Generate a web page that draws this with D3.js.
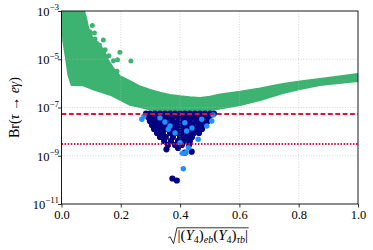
<!DOCTYPE html>
<meta charset="utf-8">
<style>
    body { margin: 0; background: #fff; }
    text { font-family: "Liberation Serif", "DejaVu Serif", serif; fill: #000; }
    .axis path, .axis line { stroke: #000; stroke-width: 0.8; }
    .grid line { stroke: #b8b8b8; stroke-width: 0.8; stroke-dasharray: 1, 1.6; }
</style>
<body>
<script src="https://d3js.org/d3.v7.min.js"></script>
<script>
    // upper / lower edge of the dense green scan [x, Br]
    var greenUpper = [
        [0, 1e-3], [0.076, 1e-3], [0.083, 5.1e-4], [0.089, 2.2e-4], [0.103, 8.4e-5],
        [0.130, 3.9e-5], [0.147, 1.8e-5], [0.157, 9.3e-6], [0.174, 4.3e-6], [0.197, 2.0e-6],
        [0.231, 1.25e-6], [0.265, 7.4e-7], [0.299, 5.3e-7], [0.332, 4.1e-7], [0.366, 3.3e-7],
        [0.400, 2.9e-7], [0.433, 2.65e-7], [0.467, 2.5e-7], [0.501, 2.8e-7], [0.535, 3.5e-7],
        [0.602, 4.5e-7], [0.670, 6.1e-7], [0.747, 9.4e-7], [0.804, 1.2e-6], [0.872, 1.52e-6],
        [1.0, 2.45e-6]
    ];
    var greenLower = [
        [0, 1e-3], [0.002, 4.2e-4], [0.006, 5.7e-5], [0.015, 1.13e-5], [0.023, 2.3e-6],
        [0.034, 8.6e-7], [0.073, 8.3e-7], [0.109, 5.5e-7], [0.164, 3.4e-7], [0.197, 2.1e-7],
        [0.231, 1.3e-7], [0.265, 1.05e-7], [0.299, 8.3e-8], [0.332, 7.2e-8], [0.383, 6.5e-8],
        [0.467, 6.8e-8], [0.525, 8.7e-8], [0.602, 1.27e-7], [0.670, 2.05e-7], [0.747, 4.0e-7],
        [0.804, 5.8e-7], [0.872, 8.6e-7], [1.0, 1.25e-6]
    ];
    // separated green points
    var greenPts = [
        [0.104, 2.5e-4], [0.096, 1.35e-4], [0.111, 1.22e-4], [0.113, 6.9e-5], [0.141, 6.3e-5],
        [0.128, 3.9e-5], [0.130, 2.3e-5], [0.147, 2.5e-5], [0.197, 1.94e-5], [0.234, 8.5e-6],
        [0.175, 8.7e-6], [0.189, 9.6e-6], [0.187, 3.2e-6], [0.118, 4.6e-5], [0.160, 1.4e-5]
    ];

    // navy points, grouped by rows of Br
    var navyRowBr = [5.6e-8, 4.0e-8, 2.75e-8, 1.88e-8, 1.29e-8, 8.8e-9, 6.0e-9, 4.1e-9, 2.8e-9];
    var navyRowX = [
        [0.285, 0.298, 0.315, 0.332, 0.349, 0.366, 0.383, 0.400, 0.416, 0.433, 0.450, 0.467, 0.484, 0.501, 0.514],
        [0.292, 0.309, 0.325, 0.342, 0.359, 0.376, 0.393, 0.410, 0.427, 0.443, 0.460, 0.477, 0.494],
        [0.298, 0.315, 0.332, 0.352, 0.373, 0.393, 0.413, 0.433, 0.454, 0.474, 0.494],
        [0.305, 0.322, 0.342, 0.363, 0.383, 0.403, 0.423, 0.443, 0.464, 0.484],
        [0.312, 0.332, 0.352, 0.373, 0.393, 0.413, 0.433, 0.454, 0.474],
        [0.322, 0.342, 0.366, 0.386, 0.406, 0.427, 0.447, 0.464],
        [0.332, 0.352, 0.376, 0.400, 0.420, 0.440],
        [0.346, 0.369, 0.393, 0.413, 0.433],
        [0.359, 0.383, 0.406, 0.430]
    ];
    var navyPts = [
        [0.354, 1.85e-9], [0.416, 1.34e-9], [0.439, 1.47e-9], [0.393, 2.1e-9],
        [0.374, 1.14e-10], [0.389, 9.4e-11], [0.338, 7.7e-9], [0.500, 4.6e-8], [0.470, 2.1e-8]
    ];
    var bluePts = [
        [0.271, 3.24e-8], [0.278, 4.4e-8], [0.360, 1.25e-8], [0.366, 1.71e-8], [0.416, 2.34e-8],
        [0.422, 1.06e-8], [0.473, 3.24e-8], [0.507, 2.75e-8], [0.490, 1.71e-8], [0.461, 4.8e-9],
        [0.428, 2.16e-9], [0.400, 3.5e-9], [0.411, 2.9e-10], [0.407, 1.26e-9], [0.420, 1.34e-9],
        [0.511, 4.9e-8], [0.383, 8.8e-9], [0.349, 2.5e-8], [0.440, 1.41e-8], [0.332, 3.7e-8]
    ];

    var limitNow = 5.6e-8, limitFuture = 3.1e-9;
    var xTicks = [0, 0.2, 0.4, 0.6, 0.8, 1.0];
    var yTicks = [1e-3, 1e-5, 1e-7, 1e-9, 1e-11];
    var yTickExp = ["\u22123", "\u22125", "\u22127", "\u22129", "\u221211"];

    var W = 373, H = 250;
    var margin = {top: 11, right: 15, bottom: 46, left: 61.5};

    var x = d3.scaleLinear().domain([0, 1]).range([margin.left, W - margin.right]);
    var y = d3.scaleLog().domain([1e-11, 1e-3]).range([H - margin.bottom, margin.top]);

    var svg = d3.select("body").append("svg")
        .attr("width", W)
        .attr("height", H);

    svg.append("defs").append("clipPath")
        .attr("id", "plotClip")
        .append("rect")
        .attr("x", x(0)).attr("y", y(1e-3))
        .attr("width", x(1) - x(0)).attr("height", y(1e-11) - y(1e-3));

    var plot = svg.append("g").attr("clip-path", "url(#plotClip)");

    var green = "#3cb371";
    var line = d3.line().x(function(d) { return x(d[0]); }).y(function(d) { return y(d[1]); });
    plot.append("path")
        .attr("d", line(greenUpper.concat(greenLower.slice().reverse())) + "Z")
        .attr("fill", green)
        .attr("stroke", green)
        .attr("stroke-width", 2)
        .attr("stroke-linejoin", "round");

    plot.selectAll("circle.g").data(greenPts).enter().append("circle")
        .attr("class", "g")
        .attr("cx", function(d) { return x(d[0]); })
        .attr("cy", function(d) { return y(d[1]); })
        .attr("r", 2.5)
        .attr("fill", green);

    var navyAll = [];
    navyRowBr.forEach(function(br, i) {
        navyRowX[i].forEach(function(v) { navyAll.push([v, br]); });
    });
    navyAll = navyAll.concat(navyPts);

    plot.selectAll("circle.n").data(navyAll).enter().append("circle")
        .attr("class", "n")
        .attr("cx", function(d) { return x(d[0]); })
        .attr("cy", function(d) { return y(d[1]); })
        .attr("r", 3.1)
        .attr("fill", "#000080");

    plot.selectAll("circle.b").data(bluePts).enter().append("circle")
        .attr("class", "b")
        .attr("cx", function(d) { return x(d[0]); })
        .attr("cy", function(d) { return y(d[1]); })
        .attr("r", 2.7)
        .attr("fill", "#1e90ff");

    // grid on top, faint
    var grid = svg.append("g").attr("class", "grid").attr("opacity", 0.7);
    grid.selectAll("line.vx").data(xTicks.slice(1, -1)).enter().append("line")
        .attr("x1", x).attr("x2", x)
        .attr("y1", y(1e-3)).attr("y2", y(1e-11));
    grid.selectAll("line.hy").data(yTicks.slice(1, -1)).enter().append("line")
        .attr("y1", y).attr("y2", y)
        .attr("x1", x(0)).attr("x2", x(1));

    // limits (snapped to whole pixels so they stay crisp)
    var yNow = Math.round(y(limitNow)), yFut = Math.round(y(limitFuture));
    svg.append("line")
        .attr("x1", x(0)).attr("x2", x(1))
        .attr("y1", yNow).attr("y2", yNow)
        .attr("stroke", "#dc143c").attr("stroke-width", 2)
        .attr("stroke-dasharray", "4.8,2.6");
    svg.append("line")
        .attr("x1", x(0)).attr("x2", x(1))
        .attr("y1", yFut).attr("y2", yFut)
        .attr("stroke", "#dc143c").attr("stroke-width", 2)
        .attr("stroke-dasharray", "1.5,1.6");

    // axes
    var gx = svg.append("g").attr("class", "axis")
        .attr("transform", "translate(0," + y(1e-11) + ")")
        .call(d3.axisBottom(x).tickValues(xTicks).tickFormat(d3.format(".1f")).tickSize(3.5).tickPadding(3));
    gx.selectAll("text").style("font-size", "12.5px").style("font-family", "Liberation Serif, serif");
    gx.select(".domain").remove();

    var gy = svg.append("g").attr("class", "axis")
        .attr("transform", "translate(" + x(0) + ",0)")
        .call(d3.axisLeft(y).tickValues(yTicks).tickFormat("").tickSize(3.5));
    gy.select(".domain").remove();
    gy.selectAll(".tick").each(function(d, i) {
        var t = d3.select(this).append("text")
            .attr("x", -2.5).attr("y", 4.3)
            .attr("text-anchor", "end")
            .style("font-size", "12.5px");
        t.append("tspan").text("10");
        t.append("tspan").attr("dy", -5.5).style("font-size", "9px").text(yTickExp[i]);
    });

    svg.append("rect")
        .attr("x", x(0)).attr("y", y(1e-3))
        .attr("width", x(1) - x(0)).attr("height", y(1e-11) - y(1e-3))
        .attr("fill", "none").attr("stroke", "#000").attr("stroke-width", 0.9);

    // y label
    var yl = svg.append("text")
        .attr("transform", "translate(14," + ((y(1e-3) + y(1e-11)) / 2) + ") rotate(-90)")
        .attr("text-anchor", "middle")
        .attr("dy", "0.35em")
        .style("font-size", "14px");
    yl.append("tspan").text("Br(");
    yl.append("tspan").style("font-style", "italic").text("\u03c4");
    yl.append("tspan").text(" \u2192 ");
    yl.append("tspan").style("font-style", "italic").text("e\u03b3");
    yl.append("tspan").text(")");

    // x label with radical
    var xc = (x(0) + x(1)) / 2 + 3;
    var xl = svg.append("text")
        .attr("x", xc).attr("y", 240)
        .attr("text-anchor", "middle")
        .style("font-size", "15px");
    function sub(txt, it) {
        xl.append("tspan").attr("dy", 3).style("font-size", "10px")
            .style("font-style", it ? "italic" : "normal").text(txt);
    }
    xl.append("tspan").text("|(");
    xl.append("tspan").style("font-style", "italic").text("Y");
    sub("4", false);
    xl.append("tspan").attr("dy", -3).text(")");
    sub("eb", true);
    xl.append("tspan").attr("dy", -3).text("(");
    xl.append("tspan").style("font-style", "italic").text("Y");
    sub("4", false);
    xl.append("tspan").attr("dy", -3).text(")");
    sub("\u03c4b", true);
    xl.append("tspan").attr("dy", -3).text("|");
    var bb = xl.node().getBBox();
    var barY = bb.y + 0.8;
    svg.append("path")
        .attr("d", "M" + (bb.x - 9) + "," + (barY + 10) + " l1.8,-1 l3.4,6.8 l3.4,-" + 15.8 + " H" + (bb.x + bb.width + 0.5))
        .attr("fill", "none").attr("stroke", "#000").attr("stroke-width", 0.8);
</script>
